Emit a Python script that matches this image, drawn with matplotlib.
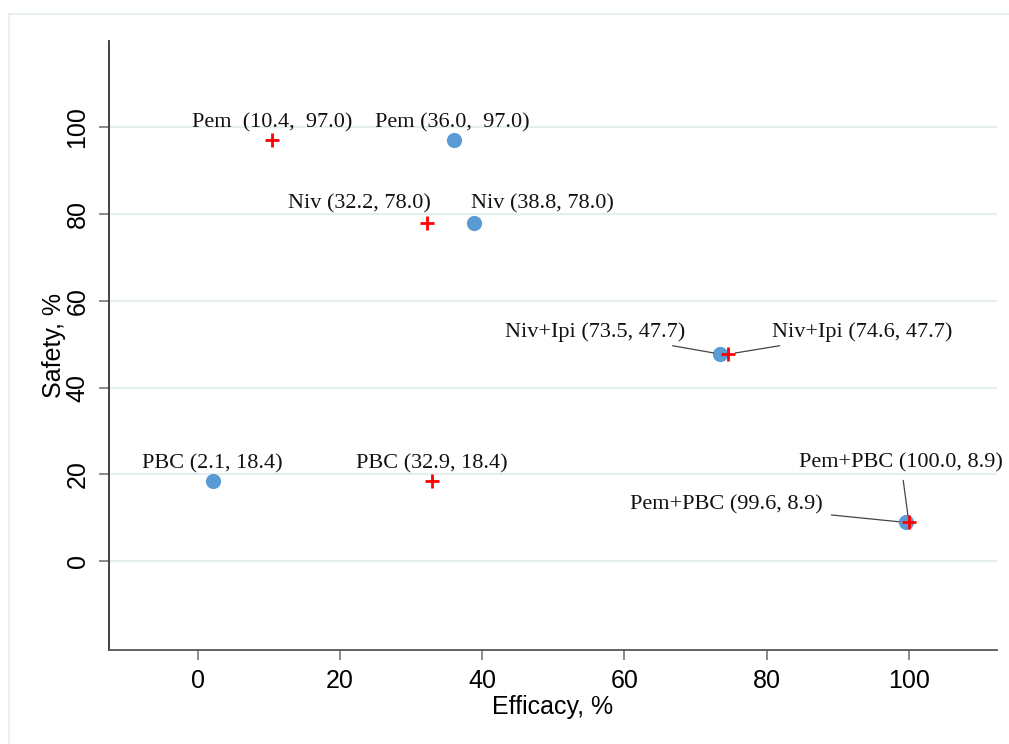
import matplotlib
matplotlib.use("Agg")
import matplotlib.pyplot as plt
from matplotlib.lines import Line2D

# Data
names = ["PBC", "Pem", "Niv", "Niv+Ipi", "Pem+PBC"]
blue_eff = [2.1, 36.0, 38.8, 73.5, 99.6]
blue_saf = [18.4, 97.0, 78.0, 47.7, 8.9]
red_eff = [32.9, 10.4, 32.2, 74.6, 100.0]
red_saf = [18.4, 97.0, 78.0, 47.7, 8.9]
blue_labels = ["PBC (2.1, 18.4)", "Pem (36.0,  97.0)", "Niv (38.8, 78.0)",
               "Niv+Ipi (73.5, 47.7)", "Pem+PBC (99.6, 8.9)"]
red_labels = ["PBC (32.9, 18.4)", "Pem  (10.4,  97.0)", "Niv (32.2, 78.0)",
              "Niv+Ipi (74.6, 47.7)", "Pem+PBC (100.0, 8.9)"]
xticks = [0, 20, 40, 60, 80, 100]
yticks = [0, 20, 40, 60, 80, 100]

W, H = 1009, 744
fig = plt.figure(figsize=(W / 100, H / 100), dpi=100)
fig.patch.set_facecolor("white")

# outer frame (top & left visible)
fc = "#e9f0f0"
fig.add_artist(Line2D([9 / W, 1.0], [1 - 14 / H, 1 - 14 / H], transform=fig.transFigure, color=fc, lw=1.5))
fig.add_artist(Line2D([9 / W, 9 / W], [0, 1 - 14 / H], transform=fig.transFigure, color=fc, lw=1.5))

ax = fig.add_axes([109 / W, (H - 650) / H, (997 - 109) / W, (650 - 40.5) / H])
ax.set_xlim(-12.5, 112.4)
ax.set_ylim(-20.5, 120.0)

for s in ["top", "right"]:
    ax.spines[s].set_visible(False)
ax.spines["left"].set_color("#333333")
ax.spines["bottom"].set_color("#555555")
ax.spines["left"].set_linewidth(1.3)
ax.spines["bottom"].set_linewidth(1.3)

ax.set_xticks(xticks)
ax.set_yticks(yticks)
ax.set_xticklabels([str(v) for v in xticks], fontsize=18, family="Liberation Sans")
ax.set_yticklabels([str(v) for v in yticks], fontsize=18, family="Liberation Sans", rotation=90, va="center")
ax.tick_params(axis="both", length=7, width=1.2, color="#777777", pad=7)
ax.yaxis.grid(True, color="#e6eef0", lw=1.6)
ax.set_axisbelow(True)

ax.set_xlabel("Efficacy, %", fontsize=18, family="Liberation Sans", labelpad=1)
ax.set_ylabel("Safety, %", fontsize=18, family="Liberation Sans", labelpad=0)

ax.scatter(blue_eff, blue_saf, s=120, color="#5b9bd5", zorder=3, linewidths=0)
ax.scatter(red_eff, red_saf, s=95, marker="+", color="#ff0000", linewidths=2.0, zorder=4)

serif = "Liberation Serif"
fs = 16

# label offsets in pixels: (dx, dy, ha, leader)
blue_off = [(0, 17, "center", False), (-2, 17, "center", False), (-3, 19, "left", False),
            (-35, 22, "right", True), (-83, 18, "right", True)]
red_off = [(0, 17, "center", False), (0, 17, "center", False), (4, 19, "right", False),
           (44, 22, "left", True), (-8, 60, "center", True)]

for xs, ys, labs, offs in [(blue_eff, blue_saf, blue_labels, blue_off),
                           (red_eff, red_saf, red_labels, red_off)]:
    for x, y, lab, (dx, dy, ha, lead) in zip(xs, ys, labs, offs):
        kw = {}
        if lead:
            kw["arrowprops"] = dict(arrowstyle="-", color="#444444", lw=0.9, shrinkA=4, shrinkB=5)
        ax.annotate(lab, (x, y), xytext=(dx, dy), textcoords="offset pixels",
                    ha=ha, va="center", fontsize=fs, family=serif, color="#111111", **kw)

fig.savefig("out.png", dpi=100)
